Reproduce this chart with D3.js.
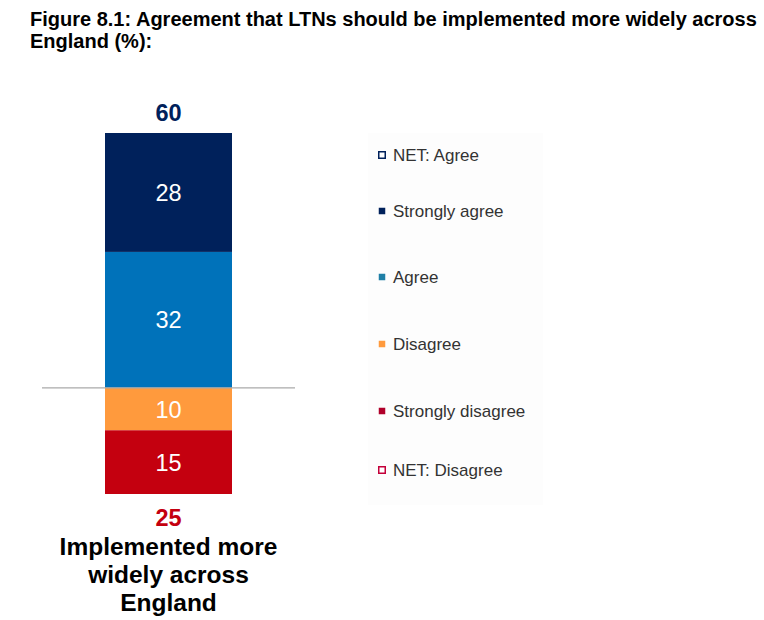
<!DOCTYPE html>
<meta charset="utf-8">
<html>
    <head>
        <script src="https://d3js.org/d3.v7.min.js"></script>
    </head>
    <style>
        body { margin: 0; background: #fff; }
        text { font-family: "Liberation Sans", Arial, sans-serif; }
    </style>
    <body>
        <div id="chart"></div>
        <script>

            // data
            var category = ["Implemented more", "widely across", "England"];
            var positive = [
                { name: "Strongly agree", value: 28, color: "#00215b" },
                { name: "Agree", value: 32, color: "#0072ba" }
            ];
            var negative = [
                { name: "Disagree", value: 10, color: "#ff9a3d" },
                { name: "Strongly disagree", value: 15, color: "#c4000f" }
            ];
            var netAgree = 60;
            var netDisagree = 25;
            var legendItems = [
                { name: "NET: Agree", color: "#00215b", hollow: true },
                { name: "Strongly agree", color: "#00215b", hollow: false },
                { name: "Agree", color: "#1f7fa6", hollow: false },
                { name: "Disagree", color: "#ff9a3d", hollow: false },
                { name: "Strongly disagree", color: "#b0002a", hollow: false },
                { name: "NET: Disagree", color: "#c4003a", hollow: true }
            ];

            var width = 764, height = 620;

            var svg = d3.select("#chart")
                .append("svg")
                .attr("width", width)
                .attr("height", height);

            // title
            svg.append("g")
                .attr("font-weight", "bold")
                .attr("font-size", 20)
                .attr("fill", "#000")
                .selectAll("text")
                .data(["Figure 8.1: Agreement that LTNs should be implemented more widely across", "England (%):"])
                .join("text")
                .attr("x", 30)
                .attr("y", (d, i) => 26 + i * 21.5)
                .text(d => d);

            // scales
            var y = d3.scaleLinear().domain([-25, 60]).range([494, 133]);
            var x = d3.scaleBand().domain(["bar"]).range([42, 295]).paddingInner(0).paddingOuter(0.25);
            var bx = x("bar") + (x.bandwidth() - 127) / 2;
            var cx = bx + 127 / 2;

            // stack positive upward from zero, negative downward
            var pos = [], acc = 0;
            positive.slice().reverse().forEach(d => { pos.push({ ...d, y0: acc, y1: acc + d.value }); acc += d.value; });
            var neg = []; acc = 0;
            negative.forEach(d => { neg.push({ ...d, y0: -acc - d.value, y1: -acc }); acc += d.value; });
            var segs = pos.concat(neg);

            var bars = svg.append("g");
            bars.selectAll("rect")
                .data(segs)
                .join("rect")
                .attr("x", bx)
                .attr("width", 127)
                .attr("y", d => y(d.y1))
                .attr("height", d => y(d.y0) - y(d.y1))
                .attr("fill", d => d.color);

            bars.selectAll("text")
                .data(segs)
                .join("text")
                .attr("x", cx)
                .attr("y", d => (y(d.y0) + y(d.y1)) / 2)
                .attr("dy", "0.36em")
                .attr("text-anchor", "middle")
                .attr("font-size", 23.5)
                .attr("fill", "#fff")
                .text(d => d.value);

            // zero line
            svg.append("line")
                .attr("x1", 42).attr("x2", 295)
                .attr("y1", y(0)).attr("y2", y(0))
                .attr("stroke", "#aaa")
                .attr("stroke-width", 1.2);

            // net labels
            svg.append("text")
                .attr("x", cx).attr("y", y(netAgree) - 12)
                .attr("text-anchor", "middle")
                .attr("font-size", 23.5).attr("font-weight", "bold")
                .attr("fill", "#00215b")
                .text(netAgree);
            svg.append("text")
                .attr("x", cx).attr("y", y(-netDisagree) + 32)
                .attr("text-anchor", "middle")
                .attr("font-size", 23.5).attr("font-weight", "bold")
                .attr("fill", "#c4000f")
                .text(netDisagree);

            // category label
            svg.append("g")
                .attr("font-size", 24.5)
                .attr("font-weight", "bold")
                .attr("text-anchor", "middle")
                .selectAll("text")
                .data(category)
                .join("text")
                .attr("x", cx)
                .attr("y", (d, i) => 555 + i * 28)
                .text(d => d);

            // legend
            var legendY = [155, 211, 277, 344, 411, 470];
            var lg = svg.append("g");
            lg.append("rect")
                .attr("x", 368).attr("y", 133).attr("width", 175).attr("height", 372)
                .attr("fill", "#fdfdfd");
            var item = lg.selectAll("g")
                .data(legendItems)
                .join("g")
                .attr("transform", (d, i) => `translate(378,${legendY[i]})`);
            item.append("rect")
                .attr("x", 0.75).attr("y", -3.25)
                .attr("width", 6.5).attr("height", 6.5)
                .attr("fill", d => d.hollow ? "#fff" : d.color)
                .attr("stroke", d => d.hollow ? d.color : "none")
                .attr("stroke-width", 1.5);
            item.append("text")
                .attr("x", 15)
                .attr("dy", "0.35em")
                .attr("font-size", 17)
                .attr("fill", "#333")
                .text(d => d.name);

        </script>
    </body>
</html>
